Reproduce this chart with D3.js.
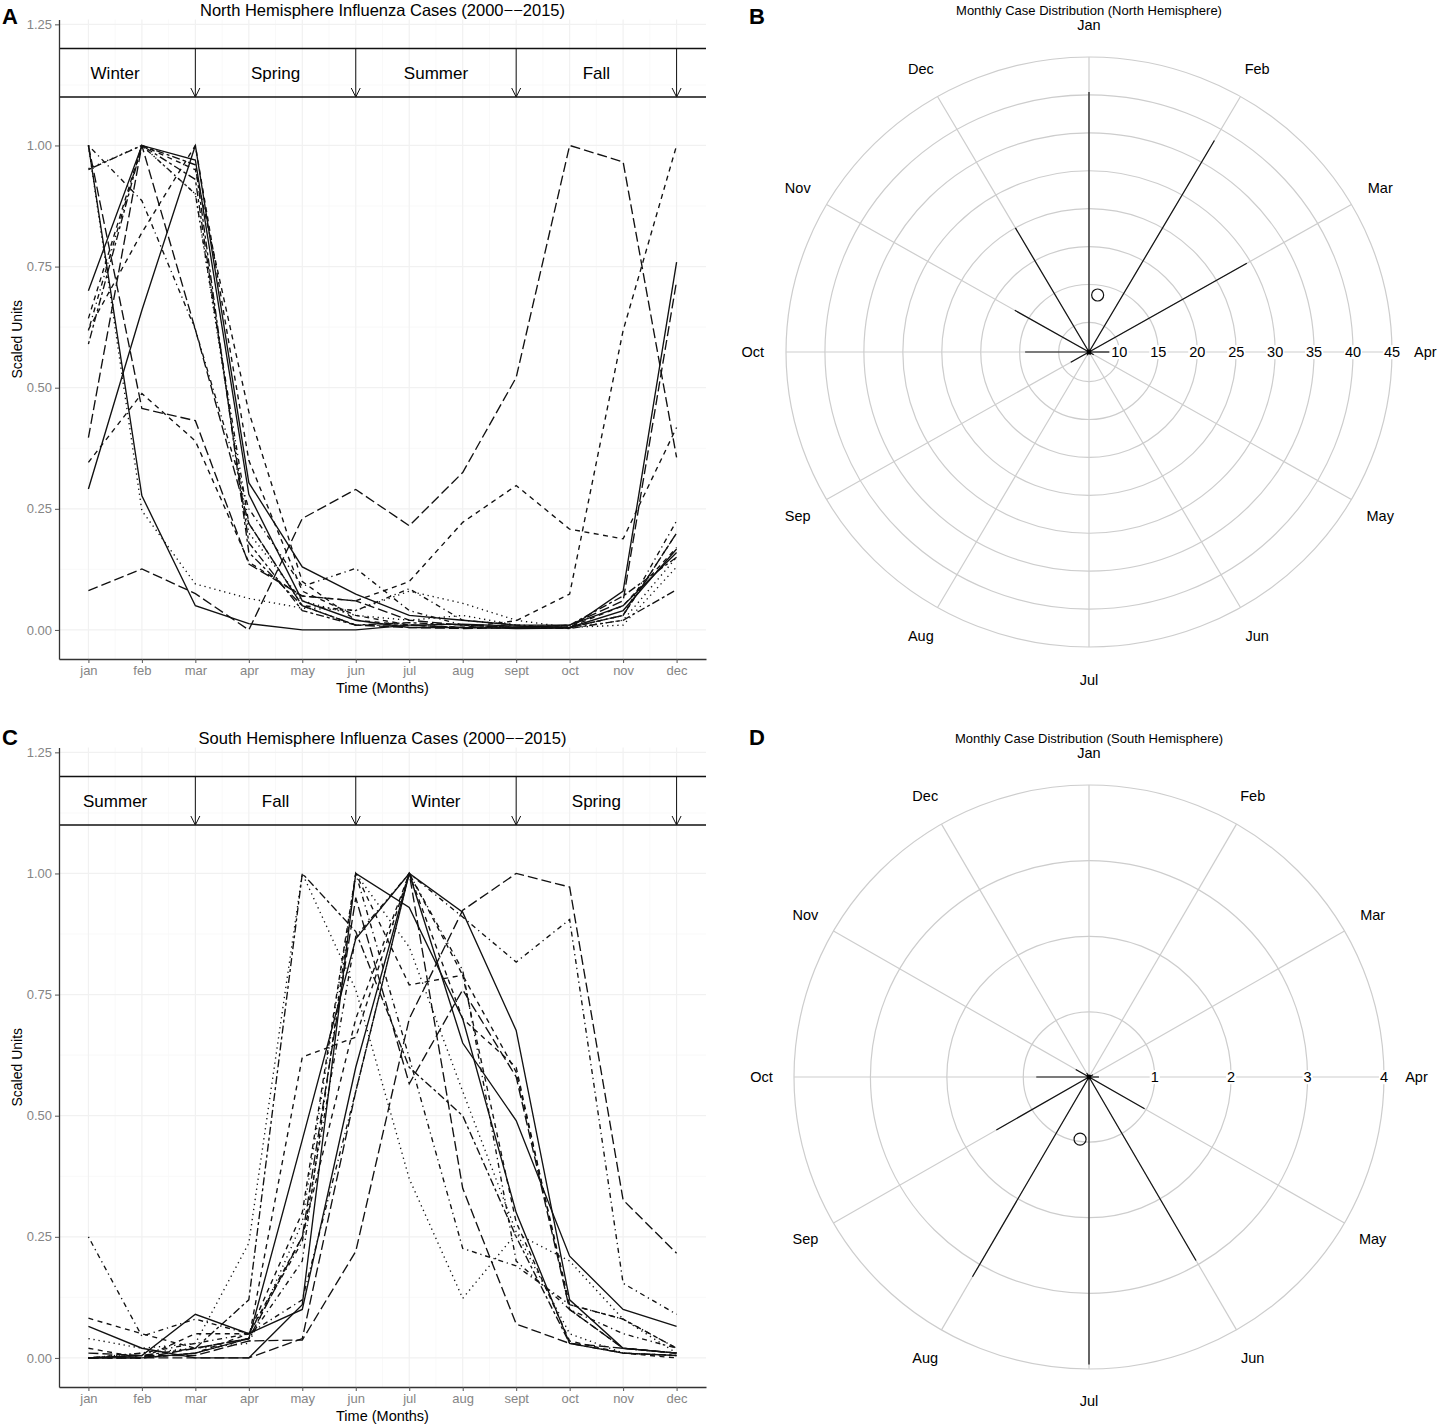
<!DOCTYPE html>
<html>
<head>
<meta charset="utf-8">
<script src="https://cdn.jsdelivr.net/npm/d3@7"></script>
<style>
  body { margin: 0; background: #fff; }
  svg { display: block; }
</style>
</head>
<body>
<script>
// ---- data ----
const months = ["jan", "feb", "mar", "apr", "may", "jun", "jul", "aug", "sept", "oct", "nov", "dec"];
const polarMonths = ["Jan", "Feb", "Mar", "Apr", "May", "Jun", "Jul", "Aug", "Sep", "Oct", "Nov", "Dec"];
const yTicks = [0, 0.25, 0.5, 0.75, 1, 1.25];
const seasonMid = [1.5, 4.5, 7.5, 10.5];
const seasonEnds = [3, 6, 9, 12];
const northSeasons = ["Winter", "Spring", "Summer", "Fall"];
const southSeasons = ["Summer", "Fall", "Winter", "Spring"];

// north hemisphere, one row per year, jan..dec (scaled)
const northSeries = [
  [0.081, 0.126, 0.075, 0.0, 0.23, 0.29, 0.215, 0.325, 0.521, 1.0, 0.966, 0.356],
  [1.0, 0.277, 0.05, 0.013, 0.0, 0.0, 0.01, 0.012, 0.008, 0.005, 0.04, 0.167],
  [1.0, 0.246, 0.095, 0.065, 0.045, 0.04, 0.08, 0.055, 0.02, 0.005, 0.01, 0.13],
  [0.291, 0.66, 1.0, 0.304, 0.13, 0.074, 0.03, 0.02, 0.01, 0.01, 0.05, 0.16],
  [0.397, 1.0, 0.62, 0.22, 0.05, 0.01, 0.005, 0.003, 0.005, 0.01, 0.06, 0.72],
  [0.346, 0.488, 0.39, 0.14, 0.07, 0.06, 0.1, 0.222, 0.298, 0.208, 0.188, 0.418],
  [1.0, 0.457, 0.432, 0.136, 0.07, 0.06, 0.02, 0.01, 0.005, 0.005, 0.03, 0.2],
  [1.0, 0.886, 0.62, 0.25, 0.09, 0.127, 0.04, 0.01, 0.005, 0.005, 0.03, 0.225],
  [0.643, 1.0, 0.95, 0.45, 0.1, 0.02, 0.01, 0.005, 0.019, 0.074, 0.618, 1.0],
  [0.618, 1.0, 0.9, 0.22, 0.05, 0.04, 0.085, 0.02, 0.01, 0.005, 0.03, 0.2],
  [0.59, 1.0, 0.93, 0.18, 0.04, 0.01, 0.01, 0.005, 0.005, 0.01, 0.07, 0.15],
  [0.952, 1.0, 0.9, 0.2, 0.06, 0.03, 0.02, 0.03, 0.01, 0.004, 0.02, 0.15],
  [0.7, 1.0, 0.97, 0.28, 0.06, 0.02, 0.005, 0.005, 0.003, 0.004, 0.08, 0.759],
  [0.95, 1.0, 0.96, 0.16, 0.05, 0.01, 0.015, 0.01, 0.005, 0.003, 0.02, 0.083],
  [0.62, 0.82, 1.0, 0.35, 0.08, 0.03, 0.01, 0.005, 0.005, 0.006, 0.05, 0.17],
];
const northTypes = ["longdash", "solid", "dotted", "solid", "longdash", "dashed", "longdash", "dotdash",
  "dashed", "dotdash", "twodash", "dotted", "solid", "twodash", "dashed"];

const southSeries = [
  [0.0, 0.0, 0.01, 0.04, 0.45, 0.865, 1.0, 0.65, 0.49, 0.21, 0.1, 0.065],
  [0.0, 0.005, 0.09, 0.05, 0.1, 0.6, 1.0, 0.92, 0.676, 0.12, 0.02, 0.01],
  [0.065, 0.02, 0.0, 0.0, 0.11, 1.0, 0.93, 0.7, 0.3, 0.03, 0.01, 0.005],
  [0.01, 0.005, 0.005, 0.035, 0.037, 0.22, 0.7, 0.924, 1.0, 0.972, 0.326, 0.216],
  [0.0, 0.01, 0.03, 0.05, 0.24, 0.87, 1.0, 0.91, 0.817, 0.905, 0.154, 0.09],
  [0.25, 0.045, 0.08, 0.05, 0.12, 0.55, 1.0, 0.8, 0.2, 0.1, 0.05, 0.02],
  [0.04, 0.02, 0.03, 0.237, 1.0, 0.76, 0.37, 0.123, 0.257, 0.2, 0.08, 0.01],
  [0.0, 0.005, 0.02, 0.12, 1.0, 0.88, 0.6, 0.5, 0.25, 0.03, 0.01, 0.005],
  [0.082, 0.05, 0.02, 0.04, 0.621, 0.662, 1.0, 0.79, 0.59, 0.11, 0.08, 0.02],
  [0.0, 0.0, 0.01, 0.05, 0.3, 1.0, 0.77, 0.79, 0.28, 0.035, 0.01, 0.0],
  [0.0, 0.0, 0.02, 0.04, 0.25, 0.95, 0.566, 0.76, 0.58, 0.1, 0.02, 0.01],
  [0.0, 0.01, 0.02, 0.03, 0.28, 1.0, 0.848, 0.55, 0.26, 0.05, 0.01, 0.005],
  [0.02, 0.0, 0.05, 0.05, 0.25, 0.7, 1.0, 0.7, 0.6, 0.1, 0.02, 0.01],
  [0.0, 0.0, 0.01, 0.04, 0.2, 1.0, 0.62, 0.226, 0.19, 0.11, 0.08, 0.02],
  [0.0, 0.0, 0.0, 0.0, 0.04, 0.55, 1.0, 0.35, 0.07, 0.03, 0.02, 0.01],
];
const southTypes = ["solid", "solid", "solid", "longdash", "dotdash", "dotdash", "dotted", "twodash",
  "dashed", "dashed", "longdash", "dotted", "dashed", "dotdash", "longdash"];

// monthly case distribution (polar), Jan..Dec
const northMonthly = [40.4, 38.3, 29.5, 8.7, 6.8, 6.5, 6.4, 6.6, 8.8, 14.3, 17.1, 25.0];
const southMonthly = [0.16, 0.16, 0.2, 0.27, 0.98, 2.94, 3.94, 3.19, 1.54, 0.83, 0.34, 0.2];
const northRings = [10, 15, 20, 25, 30, 35, 40, 45];
const southRings = [1, 2, 3, 4];
const northMean = [0.28, 13.7]; // [month position, radius]
const southMean = [6.27, 0.97];

// ---- drawing ----
const font = "'Liberation Sans', Arial, Helvetica, sans-serif";
const dashes = {
  solid: null,
  dashed: "5,4.5",
  dotted: "1.3,3.8",
  dotdash: "1.3,3.8,5,3.8",
  longdash: "10,4",
  twodash: "3,3,8,3",
};

const svg = d3.select("body").append("svg")
  .attr("width", 1439)
  .attr("height", 1426)
  .attr("font-family", font);

function letter(x, y, t) {
  svg.append("text").attr("x", x).attr("y", y)
    .attr("font-size", 22).attr("font-weight", "bold").text(t);
}

function lineChart({ top, title, series, types, seasons }) {
  const left = 59, right = 706, h = 639.5;
  const x = d3.scaleLinear().domain([0.45, 12.55]).range([left, right]);
  const y = d3.scaleLinear().domain([-0.06, 1.26]).range([top + h, top]);
  const g = svg.append("g");

  // grid
  const minorY = d3.range(0.125, 1.26, 0.25);
  const minorX = d3.range(1.5, 12, 1);
  g.append("g").selectAll("line").data(minorY).join("line")
    .attr("x1", left).attr("x2", right).attr("y1", y).attr("y2", y)
    .attr("stroke", "#f7f7f7").attr("stroke-width", 0.8);
  g.append("g").selectAll("line").data(minorX).join("line")
    .attr("y1", top).attr("y2", top + h).attr("x1", x).attr("x2", x)
    .attr("stroke", "#f7f7f7").attr("stroke-width", 0.8);
  g.append("g").selectAll("line").data(yTicks).join("line")
    .attr("x1", left).attr("x2", right).attr("y1", y).attr("y2", y)
    .attr("stroke", "#f1f1f1").attr("stroke-width", 1.2);
  g.append("g").selectAll("line").data(d3.range(1, 13)).join("line")
    .attr("y1", top).attr("y2", top + h).attr("x1", x).attr("x2", x)
    .attr("stroke", "#f1f1f1").attr("stroke-width", 1.2);

  // series
  const line = d3.line().x((d, i) => x(i + 1)).y((d) => y(d));
  g.append("g")
    .attr("fill", "none")
    .attr("stroke", "#111")
    .attr("stroke-width", 1.35)
    .selectAll("path")
    .data(series)
    .join("path")
    .attr("stroke-dasharray", (d, i) => dashes[types[i]])
    .attr("d", line);

  // season band
  const band = g.append("g").attr("stroke", "#111").attr("fill", "none");
  [1.2, 1.1].forEach((v) => {
    band.append("line").attr("x1", left).attr("x2", right)
      .attr("y1", y(v)).attr("y2", y(v)).attr("stroke-width", 1.6);
  });
  band.selectAll("path.arrow").data(seasonEnds).join("path")
    .attr("class", "arrow")
    .attr("stroke-width", 1)
    .attr("d", (m) => {
      const ax = x(m), y0 = y(1.2), y1 = y(1.1);
      return `M${ax},${y0}V${y1}M${ax - 4.5},${y1 - 9}L${ax},${y1}L${ax + 4.5},${y1 - 9}`;
    });
  g.append("g").selectAll("text").data(seasons).join("text")
    .attr("x", (d, i) => x(seasonMid[i]))
    .attr("y", y(1.15))
    .attr("dy", "0.36em")
    .attr("text-anchor", "middle")
    .attr("font-size", 17)
    .text((d) => d);

  // axes
  const ya = g.append("g")
    .attr("transform", `translate(${left},0)`)
    .call(d3.axisLeft(y).tickValues(yTicks).tickFormat(d3.format(".2f")).tickSize(4).tickSizeOuter(0).tickPadding(3));
  const xa = g.append("g")
    .attr("transform", `translate(0,${top + h})`)
    .call(d3.axisBottom(x).tickValues(d3.range(1, 13)).tickFormat((d) => months[d - 1]).tickSize(4).tickSizeOuter(0).tickPadding(3));
  [ya, xa].forEach((a) => {
    a.attr("font-family", font);
    a.select(".domain").attr("stroke", "#333").attr("stroke-width", 1.3);
    a.selectAll(".tick line").attr("stroke", "#555").attr("stroke-width", 1);
    a.selectAll(".tick text").attr("fill", "#858585").attr("font-size", 13);
  });

  // titles
  g.append("text").attr("x", (left + right) / 2).attr("y", top - 3.5)
    .attr("text-anchor", "middle").attr("font-size", 16.5).text(title);
  g.append("text").attr("x", (left + right) / 2).attr("y", top + h + 34)
    .attr("text-anchor", "middle").attr("font-size", 14.5).text("Time (Months)");
  g.append("text")
    .attr("transform", `translate(22,${top + h / 2}) rotate(-90)`)
    .attr("text-anchor", "middle").attr("font-size", 14).text("Scaled Units");
}

function polarChart({ cx, cy, rx, ry, rMin, rMax, rings, values, mean, title, titleY }) {
  const sx = d3.scaleLinear().domain([rMin, rMax]).range([0, rx]);
  const sy = d3.scaleLinear().domain([rMin, rMax]).range([0, ry]);
  const ang = d3.scaleLinear().domain([0, 12]).range([0, 2 * Math.PI]);
  const px = (m, v) => cx + sx(v) * Math.sin(ang(m));
  const py = (m, v) => cy - sy(v) * Math.cos(ang(m));
  const g = svg.append("g");

  g.append("g").attr("fill", "none").attr("stroke", "#cdcdcd").attr("stroke-width", 1.2)
    .selectAll("ellipse").data(rings).join("ellipse")
    .attr("cx", cx).attr("cy", cy)
    .attr("rx", (d) => sx(d)).attr("ry", (d) => sy(d));
  g.append("g").attr("stroke", "#cdcdcd").attr("stroke-width", 1.2)
    .selectAll("line").data(d3.range(12)).join("line")
    .attr("x1", cx).attr("y1", cy)
    .attr("x2", (m) => px(m, rMax)).attr("y2", (m) => py(m, rMax));

  // radial labels with white boxes
  const rl = g.append("g").attr("font-size", 14.5);
  rings.forEach((r) => {
    const t = rl.append("text").attr("x", cx + sx(r)).attr("y", cy)
      .attr("dy", "0.36em").attr("text-anchor", "middle").text(r);
    const b = t.node().getBBox();
    rl.insert("rect", "text").attr("x", b.x - 1).attr("y", b.y + 1)
      .attr("width", b.width + 2).attr("height", b.height - 2).attr("fill", "#fff");
  });

  // monthly lines
  g.append("g").attr("stroke", "#111").attr("stroke-width", 1.2)
    .selectAll("line").data(values).join("line")
    .attr("x1", cx).attr("y1", cy)
    .attr("x2", (d, i) => px(i, d)).attr("y2", (d, i) => py(i, d));
  g.append("circle").attr("cx", cx).attr("cy", cy).attr("r", 2.4).attr("fill", "#000");
  g.append("circle")
    .attr("cx", px(mean[0], mean[1])).attr("cy", py(mean[0], mean[1]))
    .attr("r", 6).attr("fill", "none").attr("stroke", "#111").attr("stroke-width", 1.2);

  g.append("g").attr("font-size", 14.5).attr("text-anchor", "middle")
    .selectAll("text").data(polarMonths).join("text")
    .attr("x", (d, i) => cx + (rx * 1.1 + 3) * Math.sin(ang(i)))
    .attr("y", (d, i) => cy - (ry * 1.1 + 3) * Math.cos(ang(i)))
    .attr("dy", "0.36em")
    .text((d) => d);
  g.append("text").attr("x", cx).attr("y", titleY)
    .attr("text-anchor", "middle").attr("font-size", 13).text(title);
}

lineChart({
  top: 19.5,
  title: "North Hemisphere Influenza Cases (2000\u2212\u22122015)",
  series: northSeries, types: northTypes, seasons: northSeasons,
});
lineChart({
  top: 747.5,
  title: "South Hemisphere Influenza Cases (2000\u2212\u22122015)",
  series: southSeries, types: southTypes, seasons: southSeasons,
});
polarChart({
  cx: 1089, cy: 352, rx: 303, ry: 295, rMin: 6.1, rMax: 45,
  rings: northRings, values: northMonthly, mean: northMean,
  title: "Monthly Case Distribution (North Hemisphere)", titleY: 15,
});
polarChart({
  cx: 1089, cy: 1077, rx: 295, ry: 292, rMin: 0.14, rMax: 4,
  rings: southRings, values: southMonthly, mean: southMean,
  title: "Monthly Case Distribution (South Hemisphere)", titleY: 743,
});

letter(2, 24, "A");
letter(749, 24, "B");
letter(2, 745, "C");
letter(749, 745, "D");
</script>
</body>
</html>
